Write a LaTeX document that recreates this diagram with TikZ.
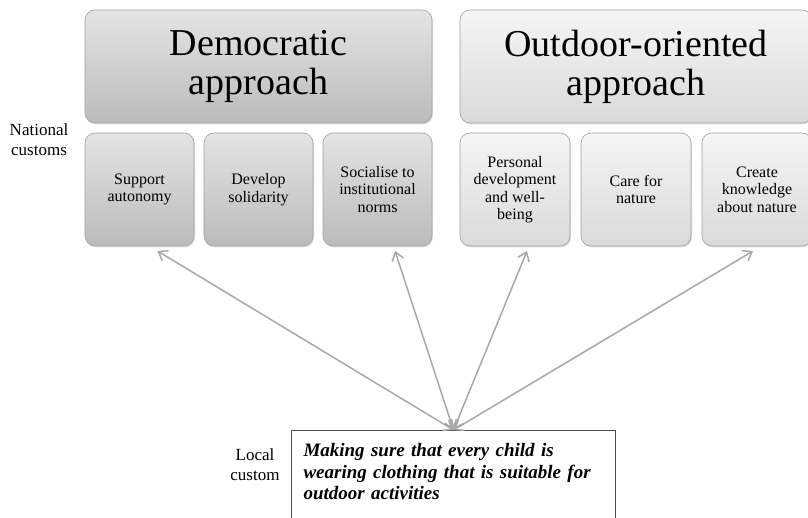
\documentclass[tikz,border=0pt]{standalone}
\usepackage{fontspec}
\setmainfont{Liberation Serif}
\usetikzlibrary{positioning,arrows.meta,shadows}

\definecolor{demtop}{HTML}{E4E4E4}
\definecolor{dembot}{HTML}{BBBBBB}
\definecolor{outtop}{HTML}{F5F5F5}
\definecolor{outbot}{HTML}{DADADA}
\definecolor{boxline}{HTML}{A0A0A0}
\definecolor{linkgray}{HTML}{A8A8A8}
\definecolor{localline}{HTML}{505050}

\tikzset{
  box/.style={rounded corners=10pt, draw=boxline, line width=0.6pt, outer sep=0pt,
    inner sep=2pt, align=center,
    drop shadow={shadow xshift=1pt, shadow yshift=-1.5pt, opacity=0.25}},
  dembox/.style={box, top color=demtop, bottom color=dembot},
  outbox/.style={box, top color=outtop, bottom color=outbot},
  bigbox/.style={minimum height=113pt, font=\fontsize{38}{39}\selectfont},
  smallbox/.style={minimum height=113pt, font=\fontsize{16}{17.5}\selectfont},
  levellabel/.style={align=center, font=\fontsize{17}{20}\selectfont},
  localbox/.style={draw=localline, line width=0.8pt, fill=white, text width=300pt,
    align=left, inner xsep=12pt, inner ysep=13pt, text depth=62pt,
    font=\bfseries\itshape\fontsize{19}{21.5}\selectfont},
  link/.style={draw=linkgray, line width=1.5pt,
    {Straight Barb[length=8pt,width=12pt]}-{Straight Barb[length=8pt,width=12pt]}}
}

\begin{document}
\begin{tikzpicture}[x=1pt,y=1pt]
  \useasboundingbox (0,0) rectangle (808,517);
  \clip (0,0) rectangle (808,517);

  % democratic side
  \node[dembox, smallbox, minimum width=109pt] (sup) at (139.5,327.5) {Support\\autonomy};
  \node[dembox, smallbox, minimum width=109pt, right=10pt of sup] (dev) {Develop\\solidarity};
  \node[dembox, smallbox, minimum width=109pt, right=10pt of dev] (soc) {Socialise to\\institutional\\norms};
  \node[dembox, bigbox, minimum width=347pt, above=10pt of sup.north west, anchor=south west] (dem) {Democratic\\approach};

  % outdoor side
  \node[outbox, smallbox, minimum width=110pt] (per) at (515,327.5) {Personal\\development\\and well-\\being};
  \node[outbox, smallbox, minimum width=110pt, right=11pt of per] (care) {Care for\\nature};
  \node[outbox, smallbox, minimum width=110pt, right=11pt of care] (cre) {Create\\knowledge\\about nature};
  \node[outbox, bigbox, minimum width=352pt, above=10pt of per.north west, anchor=south west] (out) {Outdoor-oriented\\approach};

  \node[levellabel] (national) at (39,377) {National\\customs};

  % local level
  \node[localbox, anchor=north] (local) at (453.5,87) {Making sure that every child is\\wearing clothing that is suitable for\\outdoor activities};
  \node[levellabel] (localcustom) at (255,52) {Local\\custom};

  \coordinate (tipsup) at ([xshift=18pt,yshift=-5pt]sup.south);
  \coordinate (tipsoc) at ([xshift=17.5pt,yshift=-5pt]soc.south);
  \coordinate (tipper) at ([xshift=12pt,yshift=-5pt]per.south);
  \coordinate (tipcre) at ([xshift=-4pt,yshift=-5pt]cre.south);

  \draw[link] (local.north) -- (tipsup);
  \draw[link] (local.north) -- (tipsoc);
  \draw[link] (local.north) -- (tipper);
  \draw[link] (local.north) -- (tipcre);
\end{tikzpicture}
\end{document}
